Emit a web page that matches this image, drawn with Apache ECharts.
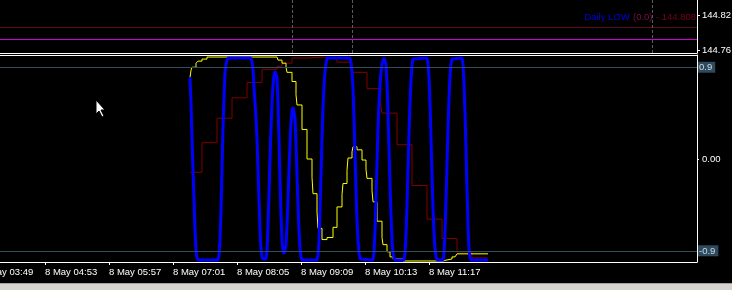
<!DOCTYPE html>
<html><head><meta charset="utf-8">
<script src="https://cdn.jsdelivr.net/npm/echarts@6/dist/echarts.min.js"></script>
<style>html,body{margin:0;padding:0;background:#000;}#c{width:732px;height:290px;}</style>
</head><body><div id="c"></div><script>
// ---- axis / categories ----
const firstMinute = '03:49';
const minuteCount = 717;
const tickLabels = ['8 May 03:49','8 May 04:53','8 May 05:57','8 May 07:01','8 May 08:05','8 May 09:09','8 May 10:13','8 May 11:17'];
const priceTicks = [144.76, 144.82];
const oscTicks = [-0.9, 0, 0.9];
const levelValues = [0.9, -0.9];
const dailyLowLine = 144.804;
const dailyLowText = 'Daily LOW';
const dailyLowShift = '(0.0)';
const dailyLowPrice = '144.808';
const magentaLine = 144.776;
const sessionTimes = ['09:00','10:00','15:00'];

// ---- series ----
const blueTimes = ['07:18','07:19','07:20','07:21','07:22','07:23','07:24','07:25','07:26','07:46','07:47','07:48','07:49','07:50','07:51','07:52','07:53','07:54','07:55','07:56',
'08:19','08:20','08:21','08:22','08:23','08:24','08:25','08:26','08:27','08:28','08:29','08:30','08:31','08:34','08:35','08:36','08:37','08:38','08:39','08:40','08:41','08:42','08:43','08:44','08:45','08:46','08:47','08:48','08:49','08:50','08:51','08:52','08:53','08:54','08:55','08:56','08:57','08:58','08:59',
'09:00','09:01','09:02','09:03','09:04','09:05','09:06','09:07','09:08','09:09','09:10','09:25','09:26','09:27','09:28','09:29','09:30','09:31','09:32','09:33','09:34','09:35','09:58','09:59',
'10:00','10:01','10:02','10:03','10:04','10:05','10:06','10:07','10:08','10:09','10:21','10:22','10:23','10:24','10:25','10:26','10:27','10:28','10:29','10:30','10:31','10:32','10:33','10:34','10:35','10:36','10:37','10:38','10:39','10:40','10:41','10:42','10:43','10:52','10:53','10:54','10:55','10:56','10:57','10:58','10:59',
'11:00','11:01','11:02','11:15','11:16','11:17','11:18','11:19','11:20','11:21','11:22','11:23','11:24','11:25','11:31','11:32','11:33','11:34','11:35','11:36','11:37','11:38','11:39','11:40','11:41','11:50','11:51','11:52','11:53','11:54','11:55','11:56','11:57','11:58','11:59','12:16'];
const blueValues = [0.80,0.55,0.20,-0.10,-0.40,-0.70,-0.90,-0.97,-0.99,-0.99,-0.95,-0.80,-0.50,-0.10,0.30,0.60,0.85,0.93,0.97,0.99,
0.99,0.95,0.88,0.70,0.55,0.40,0.20,-0.10,-0.40,-0.70,-0.88,-0.96,-0.98,-0.98,-0.90,-0.65,-0.35,0.00,0.30,0.55,0.72,0.82,0.86,0.86,0.80,0.55,0.20,-0.20,-0.55,-0.80,-0.90,-0.93,-0.92,-0.85,-0.65,-0.40,-0.10,0.15,0.35,
0.47,0.51,0.50,0.40,0.15,-0.15,-0.45,-0.70,-0.88,-0.96,-0.99,-0.99,-0.95,-0.80,-0.50,-0.15,0.20,0.50,0.72,0.86,0.94,0.99,0.99,0.94,
0.85,0.70,0.40,0.05,-0.30,-0.60,-0.80,-0.92,-0.98,-0.99,-0.99,-0.92,-0.70,-0.40,-0.05,0.30,0.55,0.72,0.85,0.93,0.97,0.99,0.99,0.93,0.75,0.45,0.10,-0.25,-0.55,-0.80,-0.92,-0.97,-0.99,-0.99,-0.93,-0.75,-0.45,-0.10,0.25,0.55,0.78,
0.92,0.98,0.99,0.99,0.94,0.80,0.55,0.20,-0.15,-0.48,-0.72,-0.88,-0.96,-0.99,-0.99,-0.92,-0.72,-0.40,-0.05,0.30,0.60,0.82,0.93,0.98,0.99,0.99,0.93,0.75,0.45,0.10,-0.30,-0.65,-0.88,-0.97,-0.99,-0.99];

const yellowTimes = ['07:18','07:19','07:20','07:24','07:26','07:30','07:35','08:45','08:46','08:50','08:54','08:55','09:00','09:04','09:05','09:10','09:15','09:20','09:21','09:25','09:26','09:30','09:35','09:41','09:45','09:50','09:51','09:55','09:56','10:00','10:01','10:05','10:10','10:14','10:15','10:20','10:21','10:25','10:30','10:31','10:35','10:38','10:41','10:51','11:31','11:35','11:40','11:43','11:45','12:16'];
const yellowValues = [0.80,0.87,0.90,0.94,0.96,0.98,1.00,0.99,0.97,0.94,0.90,0.85,0.76,0.63,0.53,0.29,0.00,-0.18,-0.34,-0.52,-0.68,-0.79,-0.77,-0.67,-0.47,-0.35,-0.24,-0.11,0.01,0.07,0.12,0.09,-0.01,-0.10,-0.19,-0.31,-0.42,-0.61,-0.77,-0.84,-0.91,-0.96,-0.98,-1.00,-0.99,-0.98,-0.96,-0.95,-0.93,-0.93];

const redTimes = ['07:18','07:30','07:45','08:00','08:15','08:30','08:45','08:50','09:00','09:15','09:30','09:45','10:00','10:15','10:28','10:30','10:45','11:00','11:15','11:30','11:45','12:00','12:15'];
const redValues = [-0.13,0.16,0.40,0.60,0.75,0.88,0.91,0.94,0.99,1.00,0.99,0.95,0.85,0.69,0.57,0.45,0.14,-0.26,-0.59,-0.78,-0.91,-0.97,-0.97];

// ---- build ----
const categories = [];
(function(){
  const p = firstMinute.split(':');
  const base = (+p[0]) * 60 + (+p[1]);
  for (let i = 0; i < minuteCount; i++) {
    const m = base + i;
    categories.push(String(Math.floor(m / 60)).padStart(2, '0') + ':' + String(m % 60).padStart(2, '0'));
  }
})();
const labelByTime = {};
tickLabels.forEach(l => { labelByTime[l.slice(6)] = l; });
const tickShown = (idx, val) => labelByTime.hasOwnProperty(categories[idx]);
const pairs = (t, v) => t.map((x, i) => [x, v[i]]);

const FONT = 'Liberation Sans';
const chart = echarts.init(document.getElementById('c'), null, {renderer: 'canvas'});
chart.setOption({
  backgroundColor: '#000000',
  animation: false,
  grid: [
    {left: -19, right: 35, top: 0, height: 53, outerBoundsMode: 'none', containLabel: false},
    {left: -19, right: 35, top: 55, height: 207, outerBoundsMode: 'none', containLabel: false}
  ],
  xAxis: [
    {gridIndex: 0, type: 'category', data: categories, boundaryGap: false, position: 'bottom',
     axisLine: {show: true, onZero: false, lineStyle: {color: '#ffffff', width: 1}}, axisTick: {show: false}, axisLabel: {show: false}, splitLine: {show: false}},
    {gridIndex: 1, type: 'category', data: categories, boundaryGap: false, position: 'bottom',
     axisLine: {show: true, onZero: false, lineStyle: {color: '#ffffff', width: 1}},
     axisTick: {show: true, interval: tickShown, length: 3, lineStyle: {color: '#ffffff'}},
     axisLabel: {show: true, interval: tickShown, align: 'left', margin: 5, color: '#ffffff', fontFamily: FONT, fontSize: 9.5,
       formatter: v => labelByTime[v] || ''},
     splitLine: {show: false}},
    {gridIndex: 1, type: 'category', data: categories, boundaryGap: false, position: 'top',
     axisLine: {show: true, onZero: false, lineStyle: {color: '#ffffff', width: 1}}, axisTick: {show: false}, axisLabel: {show: false}, splitLine: {show: false}}
  ],
  yAxis: [
    {gridIndex: 0, type: 'value', position: 'right', min: 144.7561, max: 144.8459, scale: true,
     axisLine: {show: true, onZero: false, lineStyle: {color: '#ffffff'}},
     axisTick: {show: true, customValues: priceTicks, length: 3, lineStyle: {color: '#ffffff'}},
     axisLabel: {show: true, customValues: priceTicks, margin: 5, color: '#ffffff', fontFamily: FONT, fontSize: 9.5, formatter: v => v.toFixed(2)},
     splitLine: {show: false}},
    {gridIndex: 1, type: 'value', position: 'right', min: -1.01, max: 1.02,
     axisLine: {show: true, onZero: false, lineStyle: {color: '#ffffff'}},
     axisTick: {show: true, customValues: oscTicks, length: 2, lineStyle: {color: '#ffffff'}},
     axisLabel: {show: true, customValues: oscTicks, margin: 1, fontFamily: FONT, fontSize: 9.5,
       formatter: v => Math.abs(v) < 1e-9 ? '{p|0.00}' : '{b|' + v.toFixed(1) + '}',
       rich: {
         p: {color: '#ffffff', fontFamily: FONT, fontSize: 9.5, padding: [0, 0, 0, 4]},
         b: {color: '#d0d8e0', fontFamily: FONT, fontSize: 9.5, backgroundColor: '#2e4a5e', padding: [1, 3, 0, 1]}
       }},
     splitLine: {show: false}}
  ],
  series: [
    {type: 'line', xAxisIndex: 0, yAxisIndex: 0, data: [], silent: true, z: 1,
     markLine: {symbol: 'none', silent: true, animation: false, label: {show: false},
       data: [
         {yAxis: dailyLowLine, lineStyle: {color: '#5a0a18', width: 1, type: 'solid'}},
         {yAxis: magentaLine, lineStyle: {color: '#d000d0', width: 1, type: 'solid'}},
         ...sessionTimes.map(t => ({xAxis: t, lineStyle: {color: '#5a5a5a', width: 1, type: [3, 2]}}))
       ]}},
    {type: 'line', xAxisIndex: 1, yAxisIndex: 1, data: [], silent: true, z: 1,
     markLine: {symbol: 'none', silent: true, animation: false, label: {show: false},
       lineStyle: {color: '#2f4f5a', width: 1, type: 'solid'},
       data: levelValues.map(v => ({yAxis: v}))}},
    {name: 'slow', type: 'line', xAxisIndex: 1, yAxisIndex: 1, data: pairs(redTimes, redValues), step: 'end',
     showSymbol: false, lineStyle: {color: '#800000', width: 1}, z: 2},
    {name: 'signal', type: 'line', xAxisIndex: 1, yAxisIndex: 1, data: pairs(yellowTimes, yellowValues), step: 'end',
     showSymbol: false, lineStyle: {color: '#ffff00', width: 1}, z: 3},
    {name: 'main', type: 'line', xAxisIndex: 1, yAxisIndex: 1, data: pairs(blueTimes, blueValues),
     showSymbol: false, lineStyle: {color: '#0000ff', width: 3}, z: 4}
  ],
  graphic: [
    {type: 'text', z: 10, style: {
      x: 696, y: 17.5, align: 'right', verticalAlign: 'middle',
      text: '{a|' + dailyLowText + '} {b|' + dailyLowShift + '} {c|- ' + dailyLowPrice + '}',
      rich: {
        a: {fill: '#0000e0', fontFamily: FONT, fontSize: 9.5},
        b: {fill: '#7a1048', fontFamily: FONT, fontSize: 9.5},
        c: {fill: '#7a0018', fontFamily: FONT, fontSize: 9.5}
      }}},
    {type: 'polygon', z: 20, shape: {points: [[96,100],[96,114],[99,111],[102,117],[104,116],[101,110],[105,110]]},
     style: {fill: '#ffffff', stroke: '#000000', lineWidth: 1}},
    {type: 'rect', z: 20, shape: {x: 0, y: 283, width: 732, height: 7}, style: {fill: '#d6d3ce'}},
    {type: 'rect', z: 21, shape: {x: 0, y: 283, width: 732, height: 1}, style: {fill: '#a0a0a0'}}
  ]
});
</script></body></html>
